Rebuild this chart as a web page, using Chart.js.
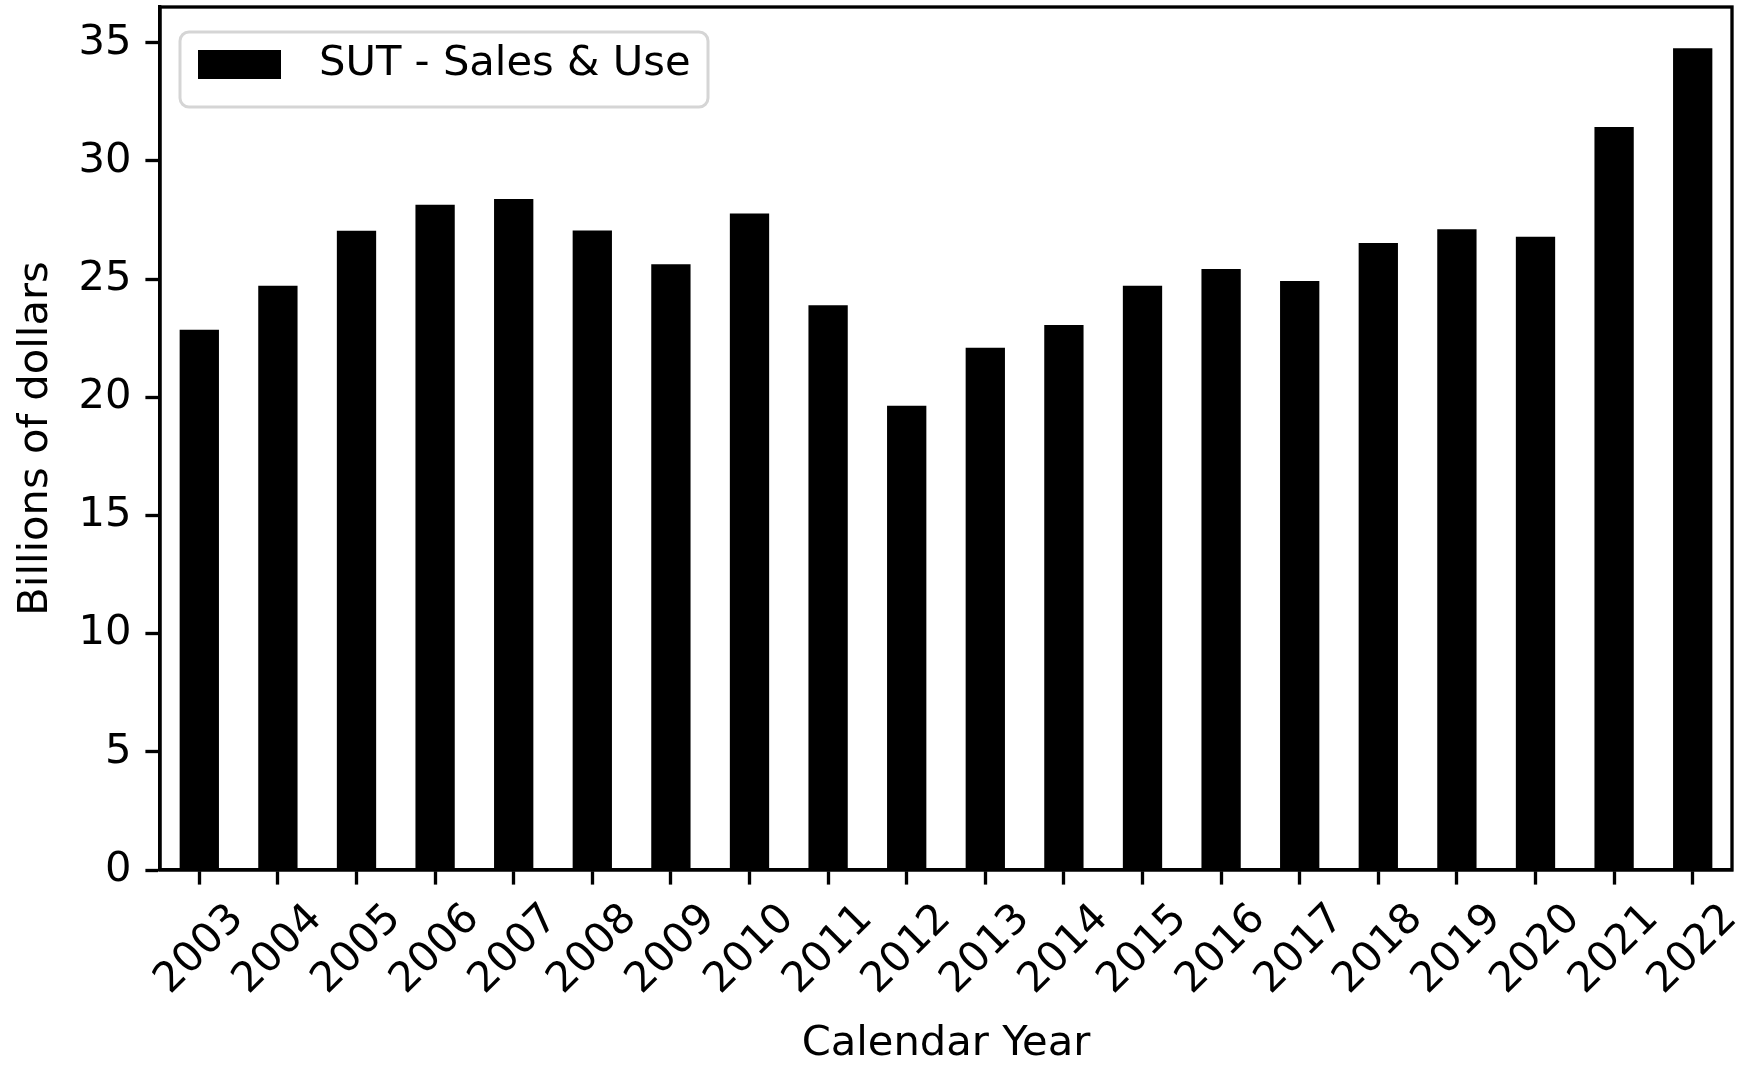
<!DOCTYPE html>
<html>
<head>
<meta charset="utf-8">
<script src="https://cdn.jsdelivr.net/npm/chart.js@4.4.1/dist/chart.umd.min.js"></script>
<style>
  html, body { margin: 0; padding: 0; background: #fff; }
  #wrap { width: 1752px; height: 1065px; }
</style>
</head>
<body>
<div id="wrap"><canvas id="sut" width="1752" height="1065"></canvas></div>
<script>
// data (billions of dollars)
const years = ['2003', '2004', '2005', '2006', '2007', '2008', '2009', '2010', '2011', '2012',
               '2013', '2014', '2015', '2016', '2017', '2018', '2019', '2020', '2021', '2022'];
const sutValues = [22.86, 24.72, 27.04, 28.14, 28.39, 27.05, 25.63, 27.77, 23.89, 19.64,
                   22.09, 23.06, 24.72, 25.43, 24.92, 26.53, 27.11, 26.79, 31.43, 34.77];
const seriesLabel = 'SUT - Sales & Use';
const yTickStep = 5;
const yMax = 36.51;

const FONT = 'DejaVu Sans';
const FS = 41.67;
const LW = 3.33;

Chart.defaults.color = '#000';
Chart.defaults.font.family = FONT;

// box round the plot + legend drawn like matplotlib's
const framePlugin = {
    id: 'frame',
    afterDraw(chart) {
        const { ctx, chartArea: a } = chart;
        ctx.save();
        ctx.strokeStyle = '#000';
        ctx.lineWidth = LW;
        ctx.strokeRect(a.left, a.top, a.right - a.left, a.bottom - a.top);

        // legend
        const ds = chart.data.datasets[0];
        ctx.beginPath();
        ctx.roundRect(a.left + 20, a.top + 25, 528, 75, 9);
        ctx.fillStyle = 'rgba(255,255,255,0.8)';
        ctx.fill();
        ctx.strokeStyle = '#d5d5d5';
        ctx.lineWidth = 3;
        ctx.stroke();
        ctx.fillStyle = ds.backgroundColor;
        ctx.fillRect(a.left + 38, a.top + 43, 83, 29);
        ctx.font = FS + 'px "' + FONT + '"';
        ctx.textBaseline = 'middle';
        ctx.textAlign = 'left';
        ctx.fillStyle = '#000';
        ctx.fillText(ds.label, a.left + 159, a.top + 57);
        ctx.restore();
    }
};

const ctx = document.getElementById('sut').getContext('2d');

new Chart(ctx, {
    type: 'bar',
    data: {
        labels: years,
        datasets: [{
            label: seriesLabel,
            data: sutValues,
            backgroundColor: '#000',
            borderWidth: 0,
            barPercentage: 0.5,
            categoryPercentage: 1.0
        }]
    },
    options: {
        responsive: false,
        devicePixelRatio: 1,
        animation: false,
        layout: { padding: { left: 0, top: 7, right: 20, bottom: 0 } },
        plugins: {
            legend: { display: false },
            tooltip: { enabled: false }
        },
        scales: {
            x: {
                grid: { offset: false, drawOnChartArea: false, tickLength: 14.6, tickWidth: LW, tickColor: '#000' },
                border: { display: true, color: '#000', width: LW },
                ticks: {
                    autoSkip: false,
                    minRotation: 45,
                    maxRotation: 45,
                    labelOffset: 38,
                    padding: 10,
                    font: { size: FS }
                },
                title: {
                    display: true,
                    text: 'Calendar Year',
                    font: { size: FS, lineHeight: 1.0 },
                    padding: { top: 0, bottom: 0 }
                },
                afterFit(scale) {
                    scale.height = 195;
                    scale.paddingLeft = 0;
                    scale.paddingRight = 0;
                }
            },
            y: {
                min: 0,
                max: yMax,
                grid: { drawOnChartArea: false, tickLength: 14.6, tickWidth: LW, tickColor: '#000' },
                border: { display: true, color: '#000', width: LW },
                ticks: {
                    stepSize: yTickStep,
                    includeBounds: false,
                    padding: 14,
                    font: { size: FS }
                },
                title: {
                    display: true,
                    text: 'Billions of dollars',
                    font: { size: FS },
                    padding: { top: 11, bottom: 0 }
                },
                afterFit(scale) {
                    scale.width = 160;
                    scale.paddingTop = 0;
                    scale.paddingBottom = 0;
                }
            }
        }
    },
    plugins: [framePlugin]
});
</script>
</body>
</html>
